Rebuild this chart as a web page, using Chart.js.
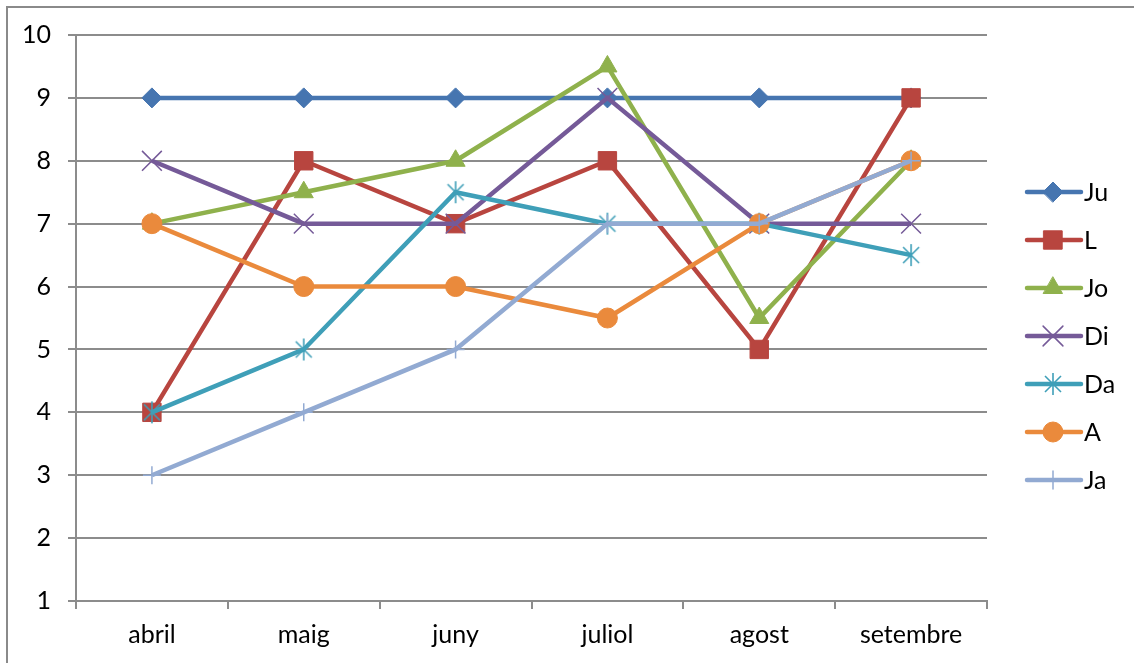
<!DOCTYPE html>
<html lang="ca">
<head>
<meta charset="UTF-8">
<title>Chart</title>
<script src="https://cdn.jsdelivr.net/npm/chart.js"></script>
<style>
    html, body { margin: 0; padding: 0; background: #fff; }
    #wrap { width: 1134px; height: 663px; }
</style>
</head>
<body>
<div id="wrap"><canvas id="lineChart" width="1134" height="663"></canvas></div>
<script>
    // categories and series
    const months = ['abril', 'maig', 'juny', 'juliol', 'agost', 'setembre'];
    const yTicks = [1, 2, 3, 4, 5, 6, 7, 8, 9, 10];
    const ju = [9, 9, 9, 9, 9, 9];
    const l  = [4, 8, 7, 8, 5, 9];
    const jo = [7, 7.5, 8, 9.5, 5.5, 8];
    const di = [8, 7, 7, 9, 7, 7];
    const da = [4, 5, 7.5, 7, 7, 6.5];
    const a  = [7, 6, 6, 5.5, 7, 8];
    const ja = [3, 4, 5, 7, 7, 8];

    const FONT = 'Lato';
    const gridColor = '#8c8c8c';

    // excel style asterisk marker (vertical + two diagonals)
    function asterisk(color) {
        const c = document.createElement('canvas');
        c.width = 24; c.height = 24;
        const g = c.getContext('2d');
        g.strokeStyle = color;
        g.lineWidth = 1.6;
        g.beginPath();
        g.moveTo(12, 1); g.lineTo(12, 23);
        g.moveTo(4, 4); g.lineTo(20, 20);
        g.moveTo(20, 4); g.lineTo(4, 20);
        g.stroke();
        return c;
    }

    function series(label, data, color, style, radius, bw, order) {
        return {
            label: label,
            data: data,
            borderColor: color,
            backgroundColor: color,
            borderWidth: 4.5,
            pointStyle: style,
            pointRadius: radius,
            pointBorderWidth: bw,
            pointBackgroundColor: color,
            pointBorderColor: color,
            order: order,
            tension: 0
        };
    }

    const datasets = [
        series('Ju', ju, '#4675b0', 'rectRot', 10, 1, 6),
        series('L',  l,  '#b8453f', 'rect', 13, 1, 5),
        series('Jo', jo, '#8fb14c', 'triangle', 11, 1, 4),
        series('Di', di, '#755a98', 'crossRot', 14, 1.5, 3),
        series('Da', da, '#3f9fb8', asterisk('#3f9fb8'), 12, 1.5, 2),
        series('A',  a,  '#ea8a3c', 'circle', 10, 1, 1),
        series('Ja', ja, '#92aad2', 'cross', 9, 1.5, 0)
    ];

    // outer frame + Excel-like legend (line with marker)
    const frameAndLegend = {
        id: 'frameAndLegend',
        afterDraw(chart) {
            const ctx = chart.ctx;
            ctx.save();
            ctx.strokeStyle = '#8a8a8a';
            ctx.lineWidth = 2;
            ctx.strokeRect(7, 7, 1140, 680);

            chart.data.datasets.forEach((ds, i) => {
                const y = 192 + i * 48;
                ctx.strokeStyle = ds.borderColor;
                ctx.fillStyle = ds.borderColor;
                ctx.lineWidth = 4.5;
                ctx.lineCap = 'round';
                ctx.beginPath();
                ctx.moveTo(1027, y);
                ctx.lineTo(1081, y);
                ctx.stroke();
                ctx.lineWidth = ds.pointBorderWidth;
                Chart.helpers.drawPoint(ctx, {
                    pointStyle: ds.pointStyle,
                    radius: ds.pointRadius,
                    rotation: 0,
                    borderWidth: ds.pointBorderWidth
                }, 1053, y);
                ctx.fillStyle = '#000';
                ctx.font = '25px ' + FONT;
                ctx.textBaseline = 'middle';
                ctx.textAlign = 'left';
                ctx.fillText(ds.label, 1084, y + 1);
            });
            ctx.restore();
        }
    };

    const ctx = document.getElementById('lineChart').getContext('2d');
    const lineChart = new Chart(ctx, {
        type: 'line',
        data: { labels: months, datasets: datasets },
        plugins: [frameAndLegend],
        options: {
            responsive: false,
            animation: false,
            devicePixelRatio: 1,
            layout: { padding: { top: 35, right: 147, left: 0, bottom: 0 } },
            plugins: {
                legend: { display: false },
                tooltip: { enabled: false }
            },
            scales: {
                x: {
                    offset: true,
                    grid: {
                        offset: true,
                        drawOnChartArea: false,
                        drawTicks: true,
                        tickLength: 8,
                        color: gridColor,
                        lineWidth: 2
                    },
                    border: { display: true, color: gridColor, width: 2 },
                    ticks: {
                        color: '#000',
                        padding: 11,
                        font: { family: FONT, size: 25 }
                    },
                    afterFit: s => { s.height = 62; }
                },
                y: {
                    min: yTicks[0],
                    max: yTicks[yTicks.length - 1],
                    afterBuildTicks: s => { s.ticks = yTicks.map(v => ({ value: v })); },
                    grid: {
                        color: gridColor,
                        lineWidth: 2,
                        tickLength: 8
                    },
                    border: { display: true, color: gridColor, width: 2 },
                    ticks: {
                        color: '#000',
                        padding: 17,
                        font: { family: FONT, size: 25 }
                    },
                    afterFit: s => { s.width = 76; }
                }
            }
        }
    });
</script>
</body>
</html>
